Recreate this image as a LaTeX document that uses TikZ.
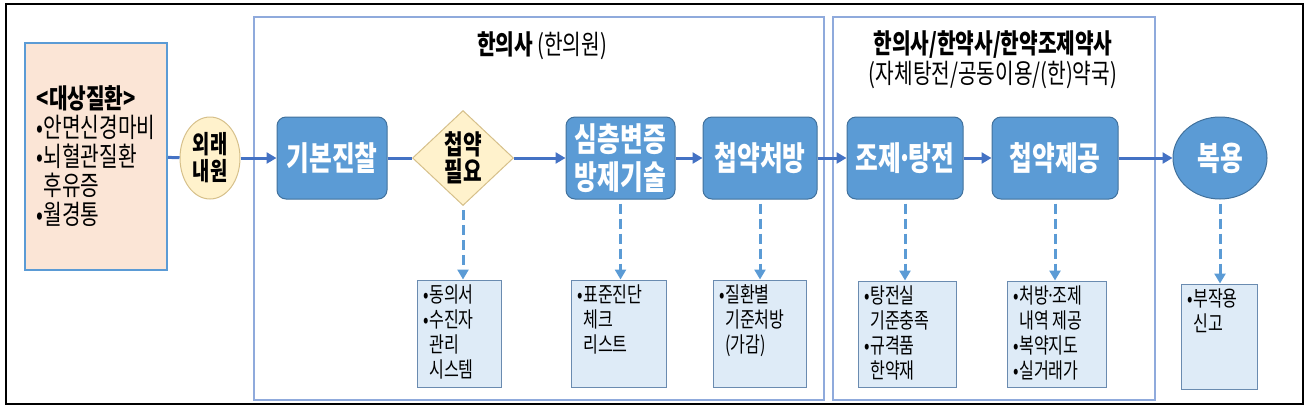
\documentclass[tikz,border=0pt]{standalone}
\usepackage{fontspec}
\setmainfont{Noto Sans CJK KR}[FakeStretch=0.75]
\usetikzlibrary{arrows.meta,shapes.geometric}

\definecolor{boxblue}{HTML}{5B9BD5}
\definecolor{boxedge}{HTML}{41719C}
\definecolor{flowblue}{HTML}{4472C4}
\definecolor{grpedge}{HTML}{8FAADC}
\definecolor{notefill}{HTML}{DEEBF7}
\definecolor{noteedge}{HTML}{6A8BB0}
\definecolor{cream}{HTML}{FFF2CC}
\definecolor{creamedge}{HTML}{D6C08A}
\definecolor{peach}{HTML}{FBE5D6}

\newcommand\tightdot{\kern-0.12em·\kern-0.12em}

\begin{document}
\begin{tikzpicture}[x=1pt,y=-1pt,
  grp/.style={draw=grpedge, line width=1.2pt},
  stage/.style={rectangle, rounded corners=9pt, draw=boxedge, fill=boxblue, line width=1pt,
    text=white, align=center, inner sep=0pt, minimum height=82pt,
    font={\fontsize{33}{38}\selectfont\bfseries}},
  note/.style={rectangle, draw=noteedge, fill=notefill, line width=1pt, inner sep=0pt},
  notetxt/.style={anchor=north west, align=left, inner sep=0pt,
    font={\fontsize{21.5}{25}\selectfont}},
  flow/.style={draw=flowblue, line width=3pt},
  flowto/.style={flow, -{Triangle[length=10pt,width=11pt]}},
  hint/.style={draw=boxblue, line width=3pt, dash pattern=on 10pt off 5pt,
    shorten <=4pt, -{Triangle[length=10pt,width=11pt]}}]

  \useasboundingbox (0,0) rectangle (1312,416);
  \draw[line width=1.5pt] (6,4) rectangle (1303,404);

  % groups
  \draw[grp] (254,17) rectangle (824,400);
  \draw[grp] (833,17) rectangle (1155,400);
  \node[font={\fontsize{27}{30}\selectfont}] (clinic) at (542,46) {\textbf{한의사} (한의원)};
  \node[align=center, font={\fontsize{27}{30}\selectfont}] (pharm) at (993,60)
    {\textbf{한의사/한약사/한약조제약사}\\(자체탕전/공동이용/(한)약국)};

  % main flow
  \node[rectangle, draw=boxblue, fill=peach, line width=2pt, minimum width=142pt,
    minimum height=227pt, align=left, inner sep=0pt,
    font={\fontsize{27}{29}\selectfont}] (disease) at (96,156.5)
    {\textbf{<대상질환>}\\•안면신경마비\\•뇌혈관질환\\\phantom{•}후유증\\•월경통};
  \node[ellipse, draw=creamedge, fill=cream, line width=1pt, minimum width=60pt,
    minimum height=82pt, inner sep=0pt, align=center,
    font={\fontsize{25}{27}\selectfont\bfseries}] (visit) at (210,158) {외래\\내원};
  \node[stage, minimum width=110pt] (basic) at (332,158) {기본진찰};
  \node[diamond, draw=creamedge, fill=cream, line width=1pt, minimum width=101pt,
    minimum height=95pt, inner sep=0pt, align=center,
    font={\fontsize{27}{27}\selectfont\bfseries}] (need) at (463,158) {첩약\\필요};
  \node[stage, minimum width=109pt] (deep) at (620.5,158) {심층변증\\방제기술};
  \node[stage, minimum width=114pt] (presc) at (760,158) {첩약처방};
  \node[stage, minimum width=116pt] (prep) at (905,158) {조제\tightdot 탕전};
  \node[stage, minimum width=126pt] (supply) at (1055,158) {첩약제공};
  \node[ellipse, draw=boxedge, fill=boxblue, line width=1pt, minimum width=94pt,
    minimum height=82pt, inner sep=0pt, text=white,
    font={\fontsize{33}{38}\selectfont\bfseries}] (take) at (1220,158) {복용};

  \draw[flow] (disease) -- (visit);
  \draw[flowto] (visit) -- (basic);
  \draw[flow] (basic) -- (need);
  \draw[flowto] (need) -- (deep);
  \draw[flowto] (deep) -- (presc);
  \draw[flowto] (presc) -- (prep);
  \draw[flowto] (prep) -- (supply);
  \draw[flowto] (supply) -- (take);

  % notes
  \node[note, minimum width=84pt, minimum height=107pt] (n1) at (459,333.5) {};
  \node[note, minimum width=95pt, minimum height=107pt] (n2) at (618.5,333.5) {};
  \node[note, minimum width=93pt, minimum height=107pt] (n3) at (759.5,333.5) {};
  \node[note, minimum width=98pt, minimum height=106pt] (n4) at (907,334) {};
  \node[note, minimum width=99pt, minimum height=106pt] (n5) at (1056.5,334) {};
  \node[note, minimum width=76pt, minimum height=105pt] (n6) at (1219,336.5) {};

  \node[notetxt] at ([shift={(7,5)}]n1.north west) {•동의서\\•수진자\\\phantom{•}관리\\\phantom{•}시스템};
  \node[notetxt] at ([shift={(7,5)}]n2.north west) {•표준진단\\\phantom{•}체크\\\phantom{•}리스트};
  \node[notetxt] at ([shift={(7,5)}]n3.north west) {•질환별\\\phantom{•}기준처방\\\phantom{•}(가감)};
  \node[notetxt] at ([shift={(7,5)}]n4.north west) {•탕전실\\\phantom{•}기준충족\\•규격품\\\phantom{•}한약재};
  \node[notetxt] at ([shift={(7,5)}]n5.north west) {•처방\tightdot 조제\\\phantom{•}내역 제공\\•복약지도\\•실거래가};
  \node[notetxt] at ([shift={(7,5)}]n6.north west) {•부작용\\\phantom{•}신고};

  \draw[hint] (need.south) -- (need.south |- n1.north);
  \draw[hint] (deep.south) -- (deep.south |- n2.north);
  \draw[hint] (presc.south) -- (presc.south |- n3.north);
  \draw[hint] (prep.south) -- (prep.south |- n4.north);
  \draw[hint] (supply.south) -- (supply.south |- n5.north);
  \draw[hint] (take.south) -- (take.south |- n6.north);
\end{tikzpicture}
\end{document}
